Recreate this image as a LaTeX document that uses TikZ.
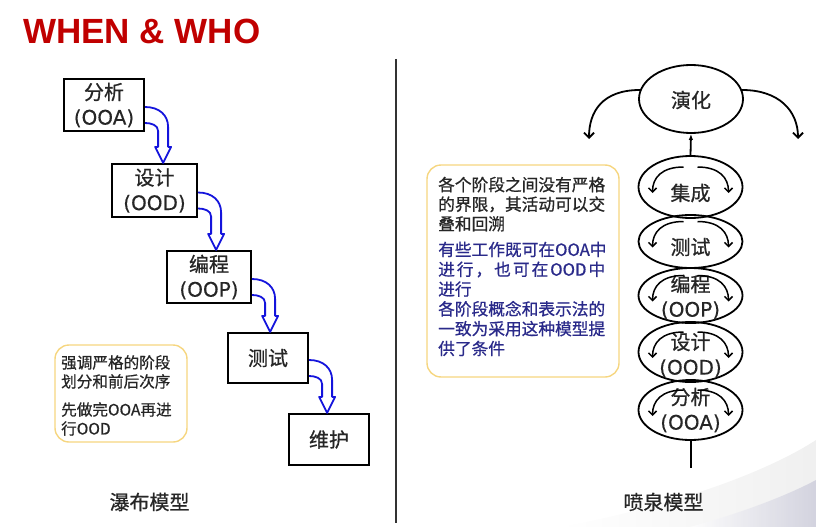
\documentclass[tikz,border=0pt]{standalone}
\usepackage{fontspec}
\newfontfamily\cjk[FakeBold=0.7]{Noto Sans CJK SC}
\newfontfamily\lat[FakeBold=0.3]{DejaVu Sans}
\newfontfamily\titlefont{Liberation Sans}
\usetikzlibrary{shapes.geometric,calc,arrows.meta}
\definecolor{titlered}{HTML}{C00000}
\definecolor{flowblue}{HTML}{1414DC}
\definecolor{notegold}{HTML}{F6D680}
\definecolor{navytext}{HTML}{2A2A8A}
\definecolor{inktext}{HTML}{262626}

% hollow bent arrow from the right side of one phase box down onto the next
\newcommand\fallto[2]{%
  \path ($(#1.east)+(0,2)$) coordinate (#1-s)
        ($(#1.east)+(18,0)$) coordinate (#1-x)
        (#1-x |- #2.north) coordinate (#1-t);
  \draw[fallarrow] (#1-s) .. controls +(14,0) and +(0,-12) .. ($(#1-t |- #1-s)+(5,20)$)
    -- ($(#1-t)+(5,-16)$) -- ($(#1-t)+(8,-16)$) -- (#1-t)
    -- ($(#1-t)+(-8,-16)$) -- ($(#1-t)+(-5,-16)$)
    -- ($(#1-t |- #1-s)+(-5,24)$) .. controls +(0,-6) and +(6,0) .. ($(#1-s)+(0,16)$);
}
% Latin part of a phase label
\newcommand\code[1]{{\lat(#1)}}

\begin{document}
\begin{tikzpicture}[x=1pt,y=-1pt,font=\cjk,
  phase/.style={draw=black,line width=2.2pt,fill=white,inner sep=0pt,align=center,
    font=\cjk\fontsize{20}{25}\selectfont,text=inktext},
  fallarrow/.style={draw=flowblue,line width=1.8pt,fill=white,line join=round},
  loopring/.style={ellipse,draw=black,line width=1.8pt,minimum width=104pt,inner sep=0pt},
  ringtext/.style={align=center,inner sep=0pt,font=\cjk\fontsize{20}{25}\selectfont,text=inktext},
  swirl/.style={line width=1.5pt,-{Straight Barb[length=4pt,width=8pt]}},
  sidearc/.style={line width=1.8pt,-{Straight Barb[length=5pt,width=10pt]}},
  note/.style={draw=notegold,line width=1.4pt,rounded corners=14pt,fill=white},
  notetext/.style={anchor=north west,inner sep=0pt,align=left},
]
\useasboundingbox (0,0) rectangle (816,527);

% faint slide backdrop in the lower right corner
\shade[left color=white,right color=black!6] (560,527) .. controls (680,505) and (770,470) .. (816,440) -- (816,527) -- cycle;
\shade[left color=white,right color=blue!30!black!22,opacity=.7] (690,527) .. controls (745,512) and (790,494) .. (816,480) -- (816,527) -- cycle;

% title
\node[anchor=base west,inner sep=0pt,font=\titlefont\bfseries\fontsize{35}{40}\selectfont,text=titlered] (title) at (23,44) {WHEN \& WHO};

% divider
\draw[line width=1.3pt,black!80] (396,59) -- (396,523);

% ---------- waterfall model ----------
\node[phase,minimum width=80pt,minimum height=52pt] (ooa) at (104,105) {分析\\\code{OOA}};
\node[phase,minimum width=85pt,minimum height=53pt] (ood) at (154.5,190.5) {设计\\\code{OOD}};
\node[phase,minimum width=84pt,minimum height=52pt] (oop) at (209,277) {编程\\\code{OOP}};
\node[phase,minimum width=80pt,minimum height=50pt] (test) at (268,358) {测试};
\node[phase,minimum width=80pt,minimum height=51pt] (maint) at (329,439.5) {维护};

\fallto{ooa}{ood}
\fallto{ood}{oop}
\fallto{oop}{test}
\fallto{test}{maint}

\node[note,minimum width=132pt,minimum height=97pt] (wnote) at (121,393.5) {};
\node[notetext,font=\cjk\fontsize{15.6}{19}\selectfont,text=inktext] (wnote1) at (61,355) {强调严格的阶段\\划分和前后次序};
\node[notetext,font=\cjk\fontsize{15.6}{19}\selectfont,text=inktext] (wnote2) at (61,402) {先做完OOA再进\\行OOD};

\node[font=\cjk\fontsize{20}{24}\selectfont,text=inktext] (wlabel) at (149.5,502) {瀑布模型};

% ---------- fountain model ----------
\node[note,minimum width=192pt,minimum height=212pt] (fnote) at (523,271) {};
\node[notetext,font=\cjk\fontsize{16.7}{19.6}\selectfont,text=inktext] (fnote1) at (438,176.6)
  {各个阶段之间没有严格\\的界限，其活动可以交\\叠和回溯};
\node[notetext,font=\cjk\fontsize{16.7}{19.8}\selectfont,text=navytext] (fnote2) at (438,241.6)
  {有些工作既可在OOA中\\\hbox to 167pt{进\hfil 行\hfil ，\hfil 也\hfil 可\hfil 在\hfil OOD\hfil 中}\\进行\\各阶段概念和表示法的\\一致为采用这种模型提\\供了条件};

\node[loopring,minimum height=68pt] (evo) at (691,99) {};
\node[ringtext] (evot) at (691,100) {演化};

\node[loopring,minimum height=62pt] (r1) at (690.5,187) {};
\node[loopring,minimum height=53pt] (r2) at (690.5,241.5) {};
\node[loopring,minimum height=55pt] (r3) at (690.5,295.5) {};
\node[loopring,minimum height=60pt] (r4) at (690.5,352) {};
\node[loopring,minimum height=60pt] (r5) at (690.5,410) {};

\node[ringtext] (r1t) at (690.5,193) {集成};
\node[ringtext] (r2t) at (690.5,247) {测试};
\node[ringtext] (r3t) at (690.5,297) {编程\\\code{OOP}};
\node[ringtext] (r4t) at (690.5,355) {设计\\\code{OOD}};
\node[ringtext] (r5t) at (690.5,410) {分析\\\code{OOA}};

\foreach \r in {r1,r2,r3,r4,r5}{
  \draw[swirl] ($(\r.center)+(-7,-20)$) .. controls +(-22,0) and +(0,-15) .. ($(\r.center)+(-38,6)$);
  \draw[swirl] ($(\r.center)+(7,-20)$) .. controls +(22,0) and +(0,-15) .. ($(\r.center)+(38,6)$);
}

\draw[line width=1.8pt,-{Latex[length=6pt,width=4.5pt]}] (r1.north) -- (evo.south);
\coordinate (stem) at (690.5,468);
\draw[line width=2pt] (r5.south) -- (stem);

\coordinate (lfall) at (589,139);
\coordinate (rfall) at (798,139);
\draw[sidearc] (evo.170) .. controls +(-37,0) and +(0,-28) .. (lfall);
\draw[sidearc] (evo.10) .. controls +(37,0) and +(0,-28) .. (rfall);

\node[font=\cjk\fontsize{20}{24}\selectfont,text=inktext] (flabel) at (663.5,502) {喷泉模型};
\end{tikzpicture}
\end{document}
